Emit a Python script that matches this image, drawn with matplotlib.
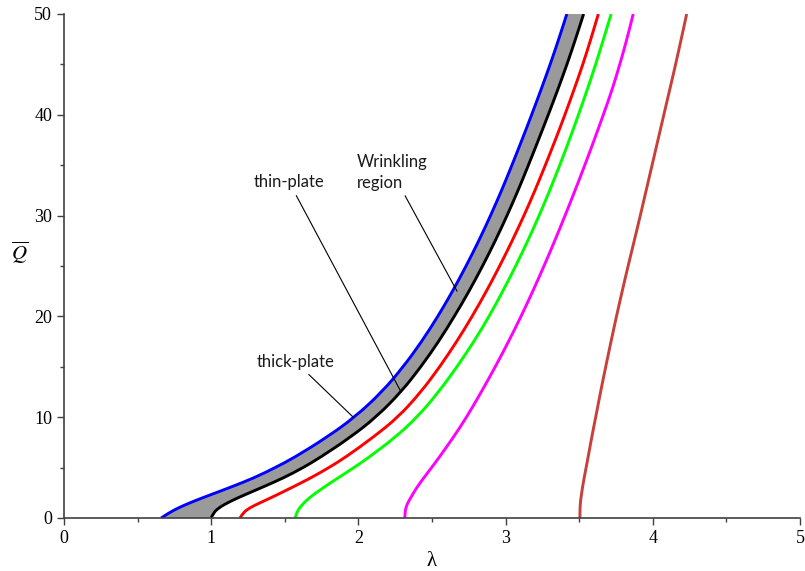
import matplotlib
matplotlib.use('Agg')
import matplotlib.pyplot as plt
from matplotlib.path import Path
from matplotlib.patches import PathPatch
from matplotlib.ticker import MultipleLocator

plt.rcParams['mathtext.fontset'] = 'stix'

# load Q (common for every curve) and lambda
Q = [0, 0.5, 1, 1.5, 2, 3, 4, 5, 6, 8, 10, 12.5, 15, 17.5, 20, 22.5,
     25, 27.5, 30, 32.5, 35, 37.5, 40, 42.5, 45, 47.5, 50]

lam_thick = [0.66, 0.712, 0.776, 0.854, 0.94, 1.123, 1.295, 1.435, 1.565, 1.785, 1.975, 2.16,
             2.305, 2.43, 2.54, 2.64, 2.732, 2.818, 2.898, 2.973, 3.043, 3.111, 3.177, 3.241,
             3.303, 3.361, 3.416]
lam_thin = [1.0, 1.015, 1.05, 1.11, 1.18, 1.34, 1.495, 1.625, 1.74, 1.945, 2.12, 2.29,
            2.425, 2.545, 2.652, 2.752, 2.844, 2.93, 3.01, 3.085, 3.155, 3.223, 3.29, 3.355,
            3.417, 3.475, 3.53]
lam_red = [1.196, 1.215, 1.26, 1.33, 1.405, 1.545, 1.68, 1.80, 1.91, 2.10, 2.27, 2.425,
           2.553, 2.668, 2.773, 2.87, 2.96, 3.045, 3.125, 3.2, 3.27, 3.338, 3.403, 3.465,
           3.525, 3.579, 3.63]
lam_green = [1.57, 1.58, 1.60, 1.63, 1.665, 1.76, 1.865, 1.97, 2.07, 2.25, 2.40, 2.545,
             2.67, 2.785, 2.888, 2.981, 3.069, 3.151, 3.228, 3.3, 3.368, 3.433, 3.495, 3.555,
             3.612, 3.665, 3.717]
lam_magenta = [2.315, 2.317, 2.322, 2.335, 2.355, 2.395, 2.445, 2.497, 2.548, 2.645, 2.735, 2.835,
               2.93, 3.02, 3.105, 3.185, 3.261, 3.334, 3.404, 3.472, 3.538, 3.602, 3.664, 3.724,
               3.776, 3.824, 3.867]
lam_brown = [3.505, 3.505, 3.506, 3.508, 3.512, 3.522, 3.534, 3.547, 3.56, 3.585, 3.612, 3.645,
             3.68, 3.716, 3.753, 3.792, 3.832, 3.874, 3.915, 3.955, 3.995, 4.035, 4.075, 4.115,
             4.155, 4.193, 4.23]


def smooth(xs, ys):
    # quadratic bezier through midpoints so the polyline is drawn round
    verts = [(xs[0], ys[0])]
    codes = [Path.MOVETO]
    for i in range(1, len(xs) - 1):
        verts += [(xs[i], ys[i]), ((xs[i] + xs[i+1]) / 2, (ys[i] + ys[i+1]) / 2)]
        codes += [Path.CURVE3, Path.CURVE3]
    verts.append((xs[-1], ys[-1]))
    codes.append(Path.LINETO)
    return verts, codes


fig = plt.figure(figsize=(8.05, 5.71), dpi=100)
ax = fig.add_axes([64/805, 53/571, 736/805, 504/571])

# wrinkling region between thick and thin plate curves
v1, c1 = smooth(lam_thick, Q)
v2, c2 = smooth(lam_thin[::-1], Q[::-1])
c2[0] = Path.LINETO
band = Path(v1 + v2 + [v1[0]], c1 + c2 + [Path.CLOSEPOLY])
ax.add_patch(PathPatch(band, facecolor='#9a9a9a', edgecolor='none'))

curves = [(lam_brown, '#c8403a'), (lam_magenta, '#ff00ff'), (lam_green, '#00ff00'),
          (lam_red, '#ff0000'), (lam_thin, 'black'), (lam_thick, '#0000ff')]
for lam, col in curves:
    v, c = smooth(lam, Q)
    ax.add_patch(PathPatch(Path(v, c), facecolor='none', edgecolor=col, lw=2.1))

ax.set_xlim(0, 5)
ax.set_ylim(0, 50)
ax.xaxis.set_major_locator(MultipleLocator(1))
ax.xaxis.set_minor_locator(MultipleLocator(0.5))
ax.yaxis.set_major_locator(MultipleLocator(10))
ax.yaxis.set_minor_locator(MultipleLocator(5))

for s in ['top', 'right']:
    ax.spines[s].set_visible(False)
for s in ['left', 'bottom']:
    ax.spines[s].set_color('#404040')
    ax.spines[s].set_linewidth(1.2)
ax.tick_params(which='major', direction='out', length=5, width=1, colors='#404040',
               labelcolor='black', labelsize=13)
ax.tick_params(which='minor', direction='out', length=3, width=1, colors='#404040')
for lab in ax.get_xticklabels() + ax.get_yticklabels():
    lab.set_family('Liberation Serif')

ax.set_xlabel('\u03bb', family='Liberation Serif', fontsize=15)
ax.xaxis.set_label_coords(0.5, -0.068)
ax.set_ylabel(r'$\overline{Q}$', rotation=0, fontsize=15)
ax.yaxis.set_label_coords(-0.06, 0.5)

# annotations
arrow = dict(arrowstyle='-', color='black', lw=0.8, shrinkA=2, shrinkB=0)
txt = dict(family='Lato', fontsize=12, color='#1a1a1a')
ax.annotate('thin-plate', xy=(lam_thin[11], Q[11]), xytext=(1.53, 33.3),
            ha='center', va='center', arrowprops=arrow, **txt)
ax.annotate('Wrinkling\nregion', xy=(lam_thick[15] + 0.03, Q[15]), xytext=(1.99, 34.3),
            ha='left', va='center', linespacing=1.35, arrowprops=arrow, **txt)
ax.annotate('thick-plate', xy=(lam_thick[10] - 0.01, Q[10]), xytext=(1.573, 15.5),
            ha='center', va='center', arrowprops=arrow, **txt)

fig.savefig('out.png', dpi=100)
